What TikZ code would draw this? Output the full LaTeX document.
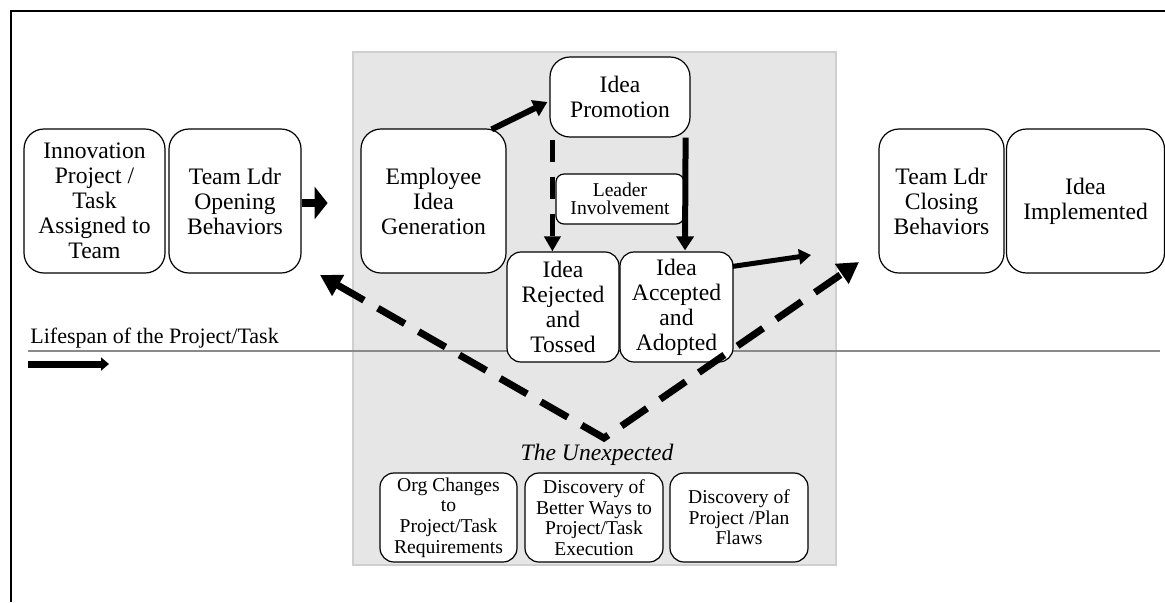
\documentclass[tikz,border=0pt]{standalone}
\usepackage{fontspec}
\setmainfont{Liberation Serif}
\usepackage{tikz}
\usetikzlibrary{backgrounds,calc,arrows.meta}

\definecolor{shade}{HTML}{E6E6E6}
\definecolor{shadeline}{HTML}{CFCFCF}
\definecolor{spanline}{HTML}{8A8A8A}

\begin{document}
\begin{tikzpicture}[x=0.5pt,y=-0.5pt]
    % `stage' is used for the big boxes of the process.
    % `minor' is used for the smaller boxes, `note' for the leader box.
    % `surround' is used for the grey background box.
    \tikzstyle{stage} = [draw,fill=white,line width=0.6pt,rounded corners=10pt,align=center,
                         inner sep=2pt,font=\fontsize{11.8}{12.5}\selectfont]
    \tikzstyle{minor} = [stage,rounded corners=7pt]
    \tikzstyle{unexp} = [minor,font=\fontsize{9.8}{10.3}\selectfont]
    \tikzstyle{note} = [stage,rounded corners=4pt,font=\fontsize{9.8}{9}\selectfont]
    \tikzstyle{surround} = [fill=shade,draw=shadeline,line width=0.6pt]
    \tikzstyle{flow} = [line width=3pt,-{Triangle[length=7pt,width=8.5pt]}]
    \tikzstyle{twist} = [line width=3.5pt,dash pattern=on 15.5pt off 8pt,
                         {Triangle[length=10.5pt,width=11.5pt]}-{Triangle[length=10.5pt,width=11.5pt]}]
    %
    \useasboundingbox (0,0) rectangle (1165,602);
    \draw[line width=0.7pt] (11,602) -- (11,11) -- (1165,11);
    %
    % Process boxes.
    \node[stage,minimum width=70.5pt,minimum height=72pt] (assign) at (94.5,201)
        {Innovation\\Project /\\Task\\Assigned to\\Team};
    \node[stage,minimum width=66pt,minimum height=72pt] (open) at (235,201)
        {Team Ldr\\Opening\\Behaviors};
    \node[stage,minimum width=72.5pt,minimum height=72pt] (gen) at (433.5,201)
        {Employee\\Idea\\Generation};
    \node[stage,minimum width=70pt,minimum height=40pt] (promo) at (620,97)
        {Idea\\Promotion};
    \node[minor,minimum width=56pt,minimum height=55pt] (reject) at (563,307)
        {Idea\\Rejected\\and\\Tossed};
    \node[minor,minimum width=56.5pt,minimum height=55pt] (accept) at (676.5,307)
        {Idea\\Accepted\\and\\Adopted};
    \node[stage,minimum width=62.5pt,minimum height=72pt] (closing) at (941.5,201)
        {Team Ldr\\Closing\\Behaviors};
    \node[stage,minimum width=79pt,minimum height=72pt] (impl) at (1085.5,201)
        {Idea\\Implemented};
    %
    % The unexpected events.
    \node[font=\fontsize{11.8}{12.5}\selectfont\itshape] (unexpected) at (597,455) {The Unexpected};
    \node[unexp,minimum width=68.5pt,minimum height=44.5pt] (orgchg) at (448.5,517.5)
        {Org Changes\\to\\Project/Task\\Requirements};
    \node[unexp,minimum width=69pt,minimum height=44.5pt] (better) at (594,517.5)
        {Discovery of\\Better Ways to\\Project/Task\\Execution};
    \node[unexp,minimum width=69pt,minimum height=44.5pt] (flaws) at (739,517.5)
        {Discovery of\\Project /Plan\\Flaws};
    %
    \node[anchor=base west,inner sep=0pt,font=\fontsize{11}{12}\selectfont] (span) at (30,343)
        {Lifespan of the Project/Task};
    \coordinate (spanL) at (28,351);
    \coordinate (spanR) at (1160,351);
    \coordinate (spanA) at (28,364);
    \coordinate (spanB) at (109,364);
    \coordinate (apex) at (604,438);
    \coordinate (tipL) at (320,275);
    \coordinate (tipR) at (859,262);
    \coordinate (adopt) at (811,255);
    %
    \begin{pgfonlayer}{background}
        % Draw background box.
        \draw[surround] (353,52) rectangle (836,565);
        % Draw lifespan line.
        \draw[spanline,line width=0.6pt] (spanL) -- (spanR);
        % Dashed path to the rejected idea, partly hidden by the leader box.
        \draw[line width=2.5pt,dash pattern=on 11pt off 7.5pt,-{Triangle[length=7.5pt,width=8pt]}]
            ($(promo.south west)+(3,2)$) coordinate (drop) -- (drop |- reject.north);
    \end{pgfonlayer}
    \node[note,minimum width=64pt,minimum height=25pt] (leader) at (620,199)
        {Leader\\Involvement};
    %
    % Arrows.
    \draw[line width=4.25pt,-{Triangle[length=6.5pt,width=16pt]}]
        ($(open.east)+(0,2)$) -- ($(open.east)+(26,2)$);
    \draw[flow] ($(gen.north east)+(-15,1)$) -- ($(promo.west)+(-2,5)$);
    \draw[flow] ($(promo.south east)+(-5,0)$) -- ($(accept.north)+(8.5,-1)$);
    \draw[line width=2.5pt,-{Triangle[length=6pt,width=7.5pt]}]
        ($(accept.north east)+(-1,15)$) -- (adopt);
    \draw[twist] (tipL) -- (apex) -- (tipR);
    \draw[line width=3.5pt,-{Triangle[length=4pt,width=6.5pt]}] (spanA) -- (spanB);
\end{tikzpicture}
\end{document}
